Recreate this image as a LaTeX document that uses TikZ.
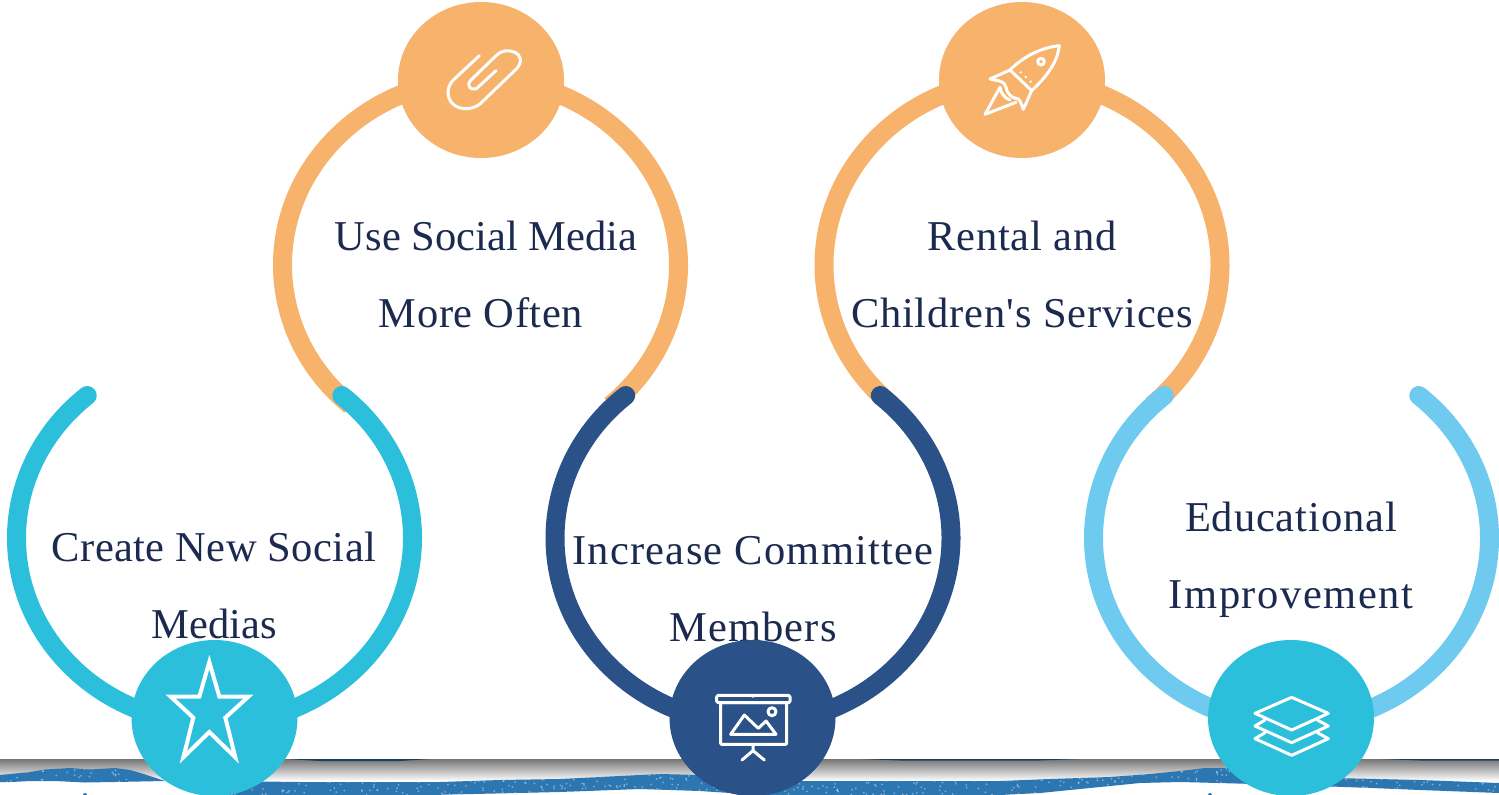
\documentclass[tikz,border=0pt]{standalone}
\usepackage{fontspec}
\newfontfamily\capfont{Liberation Serif}
\newcommand{\ls}[2]{{\addfontfeature{LetterSpace=#1}#2}}
\usetikzlibrary{shapes.geometric}
\definecolor{cyanc}{HTML}{2BBFDC}
\definecolor{navyc}{HTML}{2B5189}
\definecolor{orangec}{HTML}{F7B26B}
\definecolor{lightc}{HTML}{6ECBEF}
\definecolor{inkc}{HTML}{1B2A4E}
\definecolor{brushc}{HTML}{2C76B2}
\tikzset{
  ringback/.style={line width=19pt,line cap=butt,x radius=198,y radius=186},
  ringfront/.style={line width=19pt,line cap=round,x radius=198,y radius=186},
  badge/.style={ellipse,minimum width=166pt,minimum height=156pt,inner sep=0pt},
  caption/.style={text=inkc,align=center,font=\capfont\fontsize{42.5pt}{77pt}\selectfont,inner sep=0pt},
  glyph/.style={draw=white,line width=3pt,line join=round,line cap=round},
  zoomed/.style={x=0.33333pt,y=-0.33333pt},
}
\newcommand{\specks}[3]{%
  \foreach \k in {1,...,#3}{%
    \pgfmathsetmacro{\sx}{#1+rnd*(#2-#1)}%
    \pgfmathsetmacro{\sy}{767+rnd*28}%
    \fill[white,opacity=0.4] (\sx,\sy) circle[radius=1];
  }%
}
\begin{document}
\begin{tikzpicture}[x=1pt,y=-1pt]
\pgfmathsetseed{7}
\path[use as bounding box,fill=white] (0,0) rectangle (1499,795);
% strip
\shade[top color=black!54,middle color=black!30,bottom color=white] (0,759) rectangle (1499,781);
\fill[color=brushc!55!black] (285,759) -- (430,759) -- (400,761) -- (320,761) -- cycle;
\fill[color=brushc!55!black] (860,759) -- (1080,759) -- (1040,760.5) -- (900,760.5) -- cycle;
\fill[color=brushc!55!black] (1380,759) -- (1499,759) -- (1499,760.5) -- (1420,760.5) -- cycle;
\begin{scope}
\clip (0,775) -- (15,773.5) -- (30,772) -- (45,769.5) -- (70,768) -- (90,769.5) -- (115,768) -- (130,770) -- (142,773.5) -- (165,781) -- (140,781.5) -- (115,782) -- (85,782.5) -- (55,781) -- (30,781) -- (12,782) -- (0,782) -- cycle
  (200,795) -- (225,781) -- (300,782) -- (360,782) -- (440,782) -- (500,780) -- (560,779) -- (600,777) -- (640,775) -- (660,774) -- (700,775) -- (780,781) -- (880,781) -- (1000,781) -- (1050,779) -- (1110,777) -- (1150,774) -- (1180,771) -- (1205,768) -- (1233,768) -- (1276,773) -- (1334,778) -- (1420,780) -- (1499,783) -- (1499,793) -- (1420,790) -- (1372,788) -- (1290,785) -- (1200,782.5) -- (1180,782) -- (1140,783) -- (1100,787) -- (1040,793) -- (1000,795) -- (760,795) -- (700,791) -- (640,789) -- (560,792) -- (430,795) -- cycle;
\fill[brushc] (0,760) rectangle (1499,795);
\specks{0}{1499}{800}
\end{scope}
\fill[brushc] (85,795) circle[radius=2];
\fill[brushc] (1210,795) circle[radius=2];
% ring centres and ends
\coordinate (cA) at (214.5,538);
\coordinate (cB) at (480.5,265);
\coordinate (cC) at (753,538);
\coordinate (cD) at (1022,265);
\coordinate (cE) at (1291.5,538);
\path (cA) ++(230:198 and 186) coordinate (sA);
\path (cB) ++(131:198 and 186) coordinate (sB);
\path (cC) ++(230:198 and 186) coordinate (sC);
\path (cD) ++(131:198 and 186) coordinate (sD);
\path (cE) ++(230:198 and 186) coordinate (sE);
% rings
\draw[ringback,orangec] (sB) arc[start angle=131,end angle=409];
\draw[ringback,orangec] (sD) arc[start angle=131,end angle=409];
\draw[ringfront,cyanc] (sA) arc[start angle=230,end angle=-50];
\draw[ringfront,navyc] (sC) arc[start angle=230,end angle=-50];
\draw[ringfront,lightc] (sE) arc[start angle=230,end angle=-50];
% captions
\node[caption] (tB) at (481,274) {\hspace*{10pt}Use Social Media\\\ls{1.4}{More Often}};
\node[caption] (tD) at (1022,274) {\ls{2}{Rental and}\\\ls{2}{Children's Services}};
\node[caption] (tA) at (214,585) {\ls{1}{Create New Social}\\Medias};
\node[caption] (tC) at (753,589) {\ls{3}{Increase Committee}\\\ls{2.7}{Members}};
\node[caption] (tE) at (1291,559.5) {\ls{2.1}{Educational}\\\ls{3.6}{Improvement}};
% badges
\node[badge,fill=orangec] (bB) at (481,80) {};
\node[badge,fill=orangec] (bD) at (1022,80) {};
\node[badge,fill=cyanc] (bA) at (214.5,718) {};
\node[badge,fill=navyc] (bC) at (752.5,718) {};
\node[badge,fill=cyanc] (bE) at (1291,718) {};
% star
\begin{scope}[zoomed,shift={(150pt,-650pt)}]
\draw[draw=white,line width=4pt,line join=miter,miter limit=10] (178,36) -- (208,140) -- (295,140) -- (226,203) -- (256,322) -- (178,246) -- (100,322) -- (130,203) -- (62,140) -- (148,140) -- cycle;
\end{scope}
% paper clip
\begin{scope}[zoomed,shift={(390pt,0pt)}]
\draw[glyph] (268,167) -- (190,240) .. controls (165,265) and (170,305) .. (200,320) .. controls (225,332) and (255,325) .. (272,310) -- (378,208) .. controls (400,185) and (392,165) .. (375,157) .. controls (355,148) and (335,150) .. (315,170) -- (243,240) .. controls (228,255) and (240,272) .. (258,267) -- (318,212);
\end{scope}
% rocket
\begin{scope}[zoomed,shift={(930pt,0pt)}]
\draw[glyph] (388,137) .. controls (340,142) and (285,165) .. (240,210) -- (305,272) .. controls (355,225) and (382,185) .. (388,137) -- cycle;
\draw[glyph] (240,210) -- (180,237) -- (208,243) .. controls (222,247) and (226,254) .. (228,262) .. controls (232,285) and (248,295) .. (265,297) .. controls (270,300) and (274,312) .. (280,328) -- (305,272);
\draw[glyph] (210,262) -- (165,343) -- (258,307);
\draw[glyph] (210,262) .. controls (212,280) and (225,295) .. (240,300);
\draw[glyph] (333,185) circle[radius=10];
\fill[white] (272,217) circle[radius=4] (287,231) circle[radius=4] (302,245) circle[radius=4];
\end{scope}
% projector
\begin{scope}[zoomed,shift={(660pt,-640pt)}]
\draw[glyph,rounded corners=1.5pt] (170,166) rectangle (390,188);
\fill[white] (270,164) arc[start angle=180,end angle=0,radius=9] -- cycle;
\draw[glyph,rounded corners=1pt] (182,188) rectangle (380,313);
\draw[glyph] (279,313) -- (279,332) -- (246,360);
\draw[glyph] (279,332) -- (313,360);
\draw[glyph] (212,283) -- (253,225) -- (295,265) -- (318,243) -- (348,283) -- cycle;
\draw[glyph] (336,215) circle[radius=12];
\end{scope}
% layers
\begin{scope}[zoomed,shift={(1200pt,-640pt)}]
\draw[glyph] (275,172) -- (385,220) -- (275,270) -- (165,220) -- cycle;
\draw[glyph] (195,240) -- (165,258) -- (275,308) -- (385,258) -- (352,240);
\draw[glyph] (195,278) -- (165,296) -- (275,346) -- (385,296) -- (352,278);
\end{scope}
\end{tikzpicture}
\end{document}
